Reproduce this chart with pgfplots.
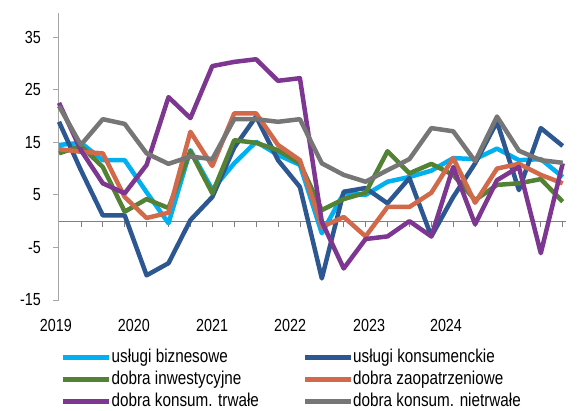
\documentclass[border=0pt]{standalone}
\usepackage{fontspec}
\setmainfont{Liberation Sans}[FakeStretch=0.82]
\usepackage{pgfplots}
\pgfplotsset{compat=1.18}

\definecolor{cBiz}{RGB}{0,176,240}
\definecolor{cKons}{RGB}{44,87,145}
\definecolor{cInw}{RGB}{84,130,53}
\definecolor{cZao}{RGB}{210,105,75}
\definecolor{cTrw}{RGB}{125,55,145}
\definecolor{cNie}{RGB}{118,118,118}

\newcommand{\chartfont}{\fontsize{17.5pt}{21pt}\selectfont}
\newcommand{\legfont}{\fontsize{18.6pt}{22pt}\selectfont}

% quarters 2019Q1 .. 2024Q4, y/y change
\pgfplotstableread{
i  biz   kons   inw   zao   trw   nie
0  14.5  18.9  12.9  13.7  22.5  21.9
1  14.9   9.7  14.3  13.2  13.5  14.5
2  11.6   1.1  10.3  12.9   7.2  19.4
3  11.6   1.1   1.8   4.6   5.3  18.5
4   5.5 -10.3   4.2   0.6  10.7  12.9
5  -0.4  -8.0   2.5   1.6  23.6  10.9
6  13.5   0.2  13.3  17.0  19.6  12.3
7   6.0   4.6   5.3  10.5  29.5  11.8
8  11.0  14.0  15.4  20.5  30.3  19.4
9  15.1  19.9  14.9  20.5  30.8  19.4
10 12.6  11.6  13.5  14.5  26.7  18.9
11 10.7   6.5  11.0  11.6  27.2  19.4
12 -2.3 -10.9   2.1  -1.1  -0.1  11.0
13  5.3   5.6   4.2   0.8  -9.0   8.8
14  5.0   6.3   5.4  -2.9  -3.4   7.5
15  7.5   3.4  13.3   2.7  -2.9   9.7
16  8.4   8.2   9.1   2.7   0.0  11.8
17  9.6  -2.9  10.9   5.4  -2.9  17.7
18 12.0   4.6   8.8  12.0  10.3  17.1
19 11.8  11.0   4.0   3.5  -0.6  11.4
20 13.8  18.9   6.9  10.0   7.8  19.9
21 11.6   5.9   7.2  10.9  10.3  13.4
22 11.8  17.7   8.0   8.8  -6.1  11.6
23  8.4  14.3   3.7   7.2  11.0  11.1
}\dane

\begin{document}
\begin{tikzpicture}
\useasboundingbox (-59pt,-110pt) rectangle (521pt,300pt);
\begin{axis}[
  at={(0pt,0pt)}, anchor=south west,
  scale only axis, width=507pt, height=287pt,
  xmin=0, xmax=23.15, ymin=-15, ymax=39.6,
  axis x line=middle, axis y line=left,
  axis line style={-},
  x axis line style={draw=black!50, line width=1pt},
  y axis line style={draw=black!35, line width=1pt},
  xtick={0,...,23}, xticklabels={},
  ytick={-15,-5,5,15,25,35},
  tick align=outside,
  major tick length=6pt,
  x tick style={draw=black!50, line width=0.8pt},
  y tick style={draw=black!35, line width=0.8pt},
  /pgf/number format/assume math mode=true,
  yticklabel style={font=\chartfont, inner sep=0pt, xshift=-12pt},
  clip=false,
  every axis plot/.append style={line width=4.5pt, line join=round, mark=none},
  legend columns=2,
  legend cell align=left,
  legend image code/.code={\draw[#1, line width=4.5pt] (0pt,0pt) -- (46pt,0pt);},
  legend style={at={(rel axis cs:0.004,-0.168)}, anchor=north west,
    draw=none, fill=none, inner sep=0pt, font=\legfont, row sep=4pt,
    nodes={inner sep=0pt, text height=14pt, text depth=4pt, anchor=west},
    /tikz/every odd column/.append style={column sep=0pt}},
]
  \addplot[cBiz]  table[x=i, y=biz]  {\dane};
  \addlegendentry{\makebox[191pt][l]{usługi biznesowe}}
  \addplot[cKons] table[x=i, y=kons] {\dane};
  \addlegendentry{usługi konsumenckie}
  \addplot[cInw]  table[x=i, y=inw]  {\dane};
  \addlegendentry{\makebox[191pt][l]{dobra inwestycyjne}}
  \addplot[cZao]  table[x=i, y=zao]  {\dane};
  \addlegendentry{dobra zaopatrzeniowe}
  \addplot[cTrw]  table[x=i, y=trw]  {\dane};
  \addlegendentry{\makebox[191pt][l]{dobra konsum. trwałe}}
  \addplot[cNie]  table[x=i, y=nie]  {\dane};
  \addlegendentry{dobra konsum. nietrwałe}

  % year labels (Excel spaces them unevenly against the quarters)
  \node[anchor=base, font=\chartfont] at (axis cs:-0.14,-21.05) {2019};
  \node[anchor=base, font=\chartfont] at (axis cs:3.42,-21.05) {2020};
  \node[anchor=base, font=\chartfont] at (axis cs:6.99,-21.05) {2021};
  \node[anchor=base, font=\chartfont] at (axis cs:10.55,-21.05) {2022};
  \node[anchor=base, font=\chartfont] at (axis cs:14.16,-21.05) {2023};
  \node[anchor=base, font=\chartfont] at (axis cs:17.67,-21.05) {2024};
\end{axis}
\end{tikzpicture}
\end{document}
